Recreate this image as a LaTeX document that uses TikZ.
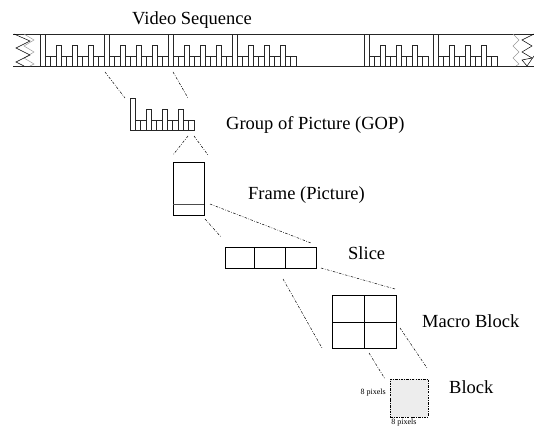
\documentclass[tikz,border=0pt]{standalone}
\usepackage{fontspec}
\setmainfont{Liberation Serif}
\begin{document}
\begin{tikzpicture}[x=1pt,y=-1pt,
  seqline/.style={line width=0.6pt, draw=black!85},
  tear/.style={line width=0.5pt},
  zoomline/.style={line width=0.5pt, dash pattern=on 2.5pt off 1.5pt on 0.7pt off 1.5pt},
  shapebox/.style={draw, line width=0.8pt, inner sep=0pt},
  lbl/.style={font=\fontsize{18.5}{20}\selectfont, inner sep=0pt, anchor=base west},
  smalllbl/.style={font=\fontsize{8}{9}\selectfont, inner sep=0pt}]
\useasboundingbox (0,0) rectangle (534,427);
\newcommand\gopat[3]{%
  \foreach \i/\h in {0/32,1/10,2/10,3/21,4/10,5/10,6/21,7/10,8/10,9/21,10/10,11/10}{
    \draw[seqline] ({#1+\i*5.333},#3) rectangle ++(5.333,-\h);
  }%
}
% title
\node[lbl] (vs) at (132,25) {Video Sequence};
% strip
\draw[seqline] (13,34) -- (534,34);
\draw[seqline] (13,66) -- (534,66);
\gopat{40}{34}{66}
\gopat{104}{34}{66}
\gopat{168}{34}{66}
\gopat{232}{34}{66}
\gopat{364}{34}{66}
\gopat{433}{34}{66}
% tear marks
\draw[tear,black!40] (24,34) -- (34,40) -- (24,46) -- (34,52) -- (24,58) -- (34,64) -- (30,66);
\draw[tear] (14,34) -- (30,41) -- (16,48) -- (30,55) -- (16,62) -- (24,66);
\draw[tear,black!40] (513,34) -- (519,40) -- (513,46) -- (519,52) -- (513,58) -- (519,64) -- (516,66);
\draw[tear] (534,34) -- (522,40) -- (532,46) -- (522,52) -- (532,58) -- (522,60) -- (527,66) -- (534,56);
% GOP icon
\gopat{130}{98}{130}
\node[inner sep=0pt, minimum width=64pt, minimum height=32pt] (gop) at (162,114) {};
\node[lbl] (goplbl) at (226,130) {Group of Picture (GOP)};
% frame
\node[shapebox, minimum width=31pt, minimum height=53pt] (frame) at (188.5,188.5) {};
\draw[line width=0.8pt, black!70] (173,204) -- (204,204);
\node[lbl] (framelbl) at (248,200) {Frame (Picture)};
% slice
\node[shapebox, minimum width=91pt, minimum height=21pt] (slice) at (270.5,257.5) {};
\draw[line width=0.8pt] (254,247) -- (254,268);
\draw[line width=0.8pt] (285,247) -- (285,268);
\node[lbl] (slicelbl) at (348,259) {Slice};
% macro block
\node[shapebox, minimum width=64pt, minimum height=53pt] (macro) at (364,321.5) {};
\draw[line width=0.8pt] (364,295) -- (364,348);
\draw[line width=0.8pt] (332,322) -- (396,322);
\node[lbl] (macrolbl) at (422,327) {Macro Block};
% block
\node[draw, fill=black!7, line width=0.6pt, dash pattern=on 2.5pt off 1.2pt on 0.7pt off 1.2pt,
      inner sep=0pt, minimum width=38pt, minimum height=38pt] (block) at (409,398) {};
\node[lbl] (blocklbl) at (449,393) {Block};
\node[smalllbl, anchor=east] (pxl) at (386,393) {8 pixels};
\node[smalllbl, anchor=south] (pxb) at (404,426.5) {8 pixels};
% zoom connectors
\coordinate (s1) at (105,72); \coordinate (g1) at (125,98);
\coordinate (s2) at (173,72); \coordinate (g2) at (188,98);
\coordinate (g3) at (188,136); \coordinate (f1) at (173,155);
\coordinate (g4) at (194,136); \coordinate (f2) at (208,155);
\coordinate (f3) at (205,219); \coordinate (c1) at (221,237);
\coordinate (f4) at (210,204); \coordinate (c2) at (311,243);
\coordinate (c3) at (283,279); \coordinate (m1) at (322,348);
\coordinate (c4) at (321,268); \coordinate (m2) at (395,289);
\coordinate (m3) at (369,353); \coordinate (b1) at (385,379);
\coordinate (m4) at (400,328); \coordinate (b2) at (427,368);
\draw[zoomline] (s1) -- (g1);
\draw[zoomline] (s2) -- (g2);
\draw[zoomline] (g3) -- (f1);
\draw[zoomline] (g4) -- (f2);
\draw[zoomline] (f3) -- (c1);
\draw[zoomline] (f4) -- (c2);
\draw[zoomline] (c3) -- (m1);
\draw[zoomline] (c4) -- (m2);
\draw[zoomline] (m3) -- (b1);
\draw[zoomline] (m4) -- (b2);
\end{tikzpicture}
\end{document}
